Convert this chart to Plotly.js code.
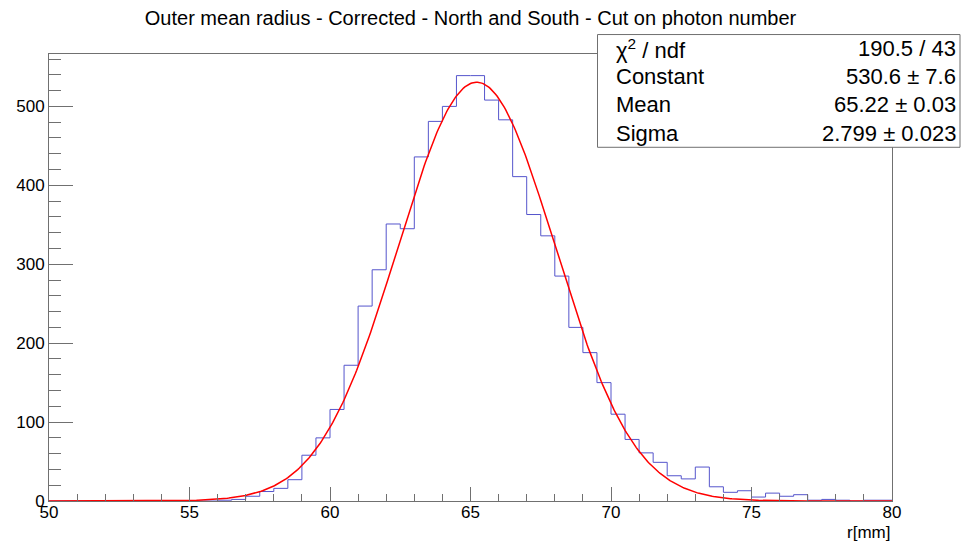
<!DOCTYPE html>
<html>
<head>
<meta charset="utf-8">
<script src="https://cdn.plot.ly/plotly-3.0.1.min.js"></script>
<style>
html, body { margin: 0; padding: 0; background: #ffffff; }
#chart { width: 971px; height: 542px; }
</style>
</head>
<body>
<div id="chart"></div>
<script>
// ---- Data ----
const binStart = 50;
const binWidth = 0.5;
// counts per 0.5 mm bin from 50 to 80 mm
const counts = [
  0, 0, 0, 0, 0, 0, 0, 0, 0, 0, 0, 0,
  1, 2, 6, 12, 16, 27, 58, 80, 116, 172,
  247, 293, 351, 345, 436, 481, 500, 539, 539, 508,
  483, 411, 363, 336, 285, 220, 188, 150, 110, 78,
  61, 49, 32, 28, 43, 18, 11, 13, 5, 10,
  6, 8, 1, 2, 1, 0, 1, 1
];
// Gaussian fit parameters shown in the stats box
const fitConstant = 530.6;
const fitMean = 65.22;
const fitSigma = 2.799;
const statsLabels = ["χ<sup>2</sup> / ndf", "Constant", "Mean", "Sigma"];
const statsValues = ["190.5 / 43", "530.6 ± 7.6", "65.22 ± 0.03", "2.799 ± 0.023"];
const xTickVals = [50, 55, 60, 65, 70, 75, 80];
const yTickVals = [0, 100, 200, 300, 400, 500];

const titleText = "Outer mean radius - Corrected - North and South - Cut on photon number";
const xTitle = "r[mm]";

// ---- Build histogram outline (step) ----
const edges = [];
for (let i = 0; i <= counts.length; i++) edges.push(binStart + i * binWidth);
const stepY = counts.concat([counts[counts.length - 1]]);

// ---- Fit curve from the fit parameters ----
const fx = [], fy = [];
const xMin = binStart, xMax = binStart + counts.length * binWidth;
for (let i = 0; i <= 600; i++) {
  const x = xMin + (xMax - xMin) * i / 600;
  fx.push(x);
  fy.push(fitConstant * Math.exp(-0.5 * Math.pow((x - fitMean) / fitSigma, 2)));
}

const FONT = "Liberation Sans, Arial, Helvetica, sans-serif";
const axisCol = "#707070";

const traces = [
  {
    type: "scatter", mode: "lines", x: edges, y: stepY,
    line: { shape: "hv", color: "#5555cc", width: 1 },
    hoverinfo: "skip", showlegend: false
  },
  {
    type: "scatter", mode: "lines", x: fx, y: fy,
    line: { color: "#ff0000", width: 1.5 },
    hoverinfo: "skip", showlegend: false
  }
];

// geometry in pixels
const W = 971, H = 542;
const L = 49, R = 892, T = 53.5, B = 501.5;
const px2x = p => (p - L) / (R - L);
const px2y = p => (B - p) / (B - T);

const rowCenters = [48, 76.4, 104.6, 132.9];
const annotations = [];
for (let i = 0; i < statsLabels.length; i++) {
  annotations.push({
    xref: "paper", yref: "paper", x: px2x(614), y: px2y(rowCenters[i]),
    xanchor: "left", yanchor: "middle", showarrow: false,
    text: statsLabels[i], font: { family: FONT, size: 22, color: "#000" }
  });
  annotations.push({
    xref: "paper", yref: "paper", x: px2x(958), y: px2y(rowCenters[i]),
    xanchor: "right", yanchor: "middle", showarrow: false,
    text: statsValues[i], font: { family: FONT, size: 22, color: "#000" }
  });
}
annotations.push({
  xref: "paper", yref: "paper", x: 1, y: px2y(533),
  xanchor: "right", yanchor: "middle", showarrow: false,
  text: xTitle, font: { family: FONT, size: 17, color: "#000" }
});

const layout = {
  width: W, height: H,
  margin: { l: L, r: W - R, t: T, b: H - B, pad: 0 },
  paper_bgcolor: "#ffffff", plot_bgcolor: "#ffffff",
  showlegend: false,
  title: {
    text: titleText, xref: "container", yref: "container",
    x: 470.5 / W, xanchor: "center", y: 1 - 18 / H, yanchor: "middle",
    font: { family: FONT, size: 20, color: "#000" }
  },
  xaxis: {
    range: [50, 80], showgrid: false, zeroline: false,
    showline: true, mirror: true, linecolor: axisCol, linewidth: 1,
    ticks: "inside", ticklen: 14, tickcolor: axisCol, tickwidth: 1,
    tickmode: "array", tickvals: xTickVals, ticktext: xTickVals.map(String),
    ticklabelstandoff: -4,
    minor: { dtick: 1, ticks: "inside", ticklen: 7, tickcolor: axisCol, tickwidth: 1, showgrid: false },
    tickfont: { family: FONT, size: 17, color: "#000" }
  },
  yaxis: {
    range: [0, 566.4], showgrid: false, zeroline: false,
    showline: true, mirror: true, linecolor: axisCol, linewidth: 1,
    ticks: "inside", ticklen: 24, tickcolor: axisCol, tickwidth: 1,
    tickmode: "array", tickvals: yTickVals, ticktext: yTickVals.map(String),
    minor: { dtick: 20, ticks: "inside", ticklen: 12, tickcolor: axisCol, tickwidth: 1, showgrid: false },
    tickfont: { family: FONT, size: 17, color: "#000" }
  },
  shapes: [{
    type: "rect", xref: "paper", yref: "paper", layer: "above",
    x0: px2x(597.5), x1: px2x(960), y0: px2y(147), y1: px2y(34),
    fillcolor: "#ffffff", line: { color: axisCol, width: 1 }
  }],
  annotations: annotations
};

Plotly.newPlot("chart", traces, layout, { staticPlot: true, displayModeBar: false });
</script>
</body>
</html>
